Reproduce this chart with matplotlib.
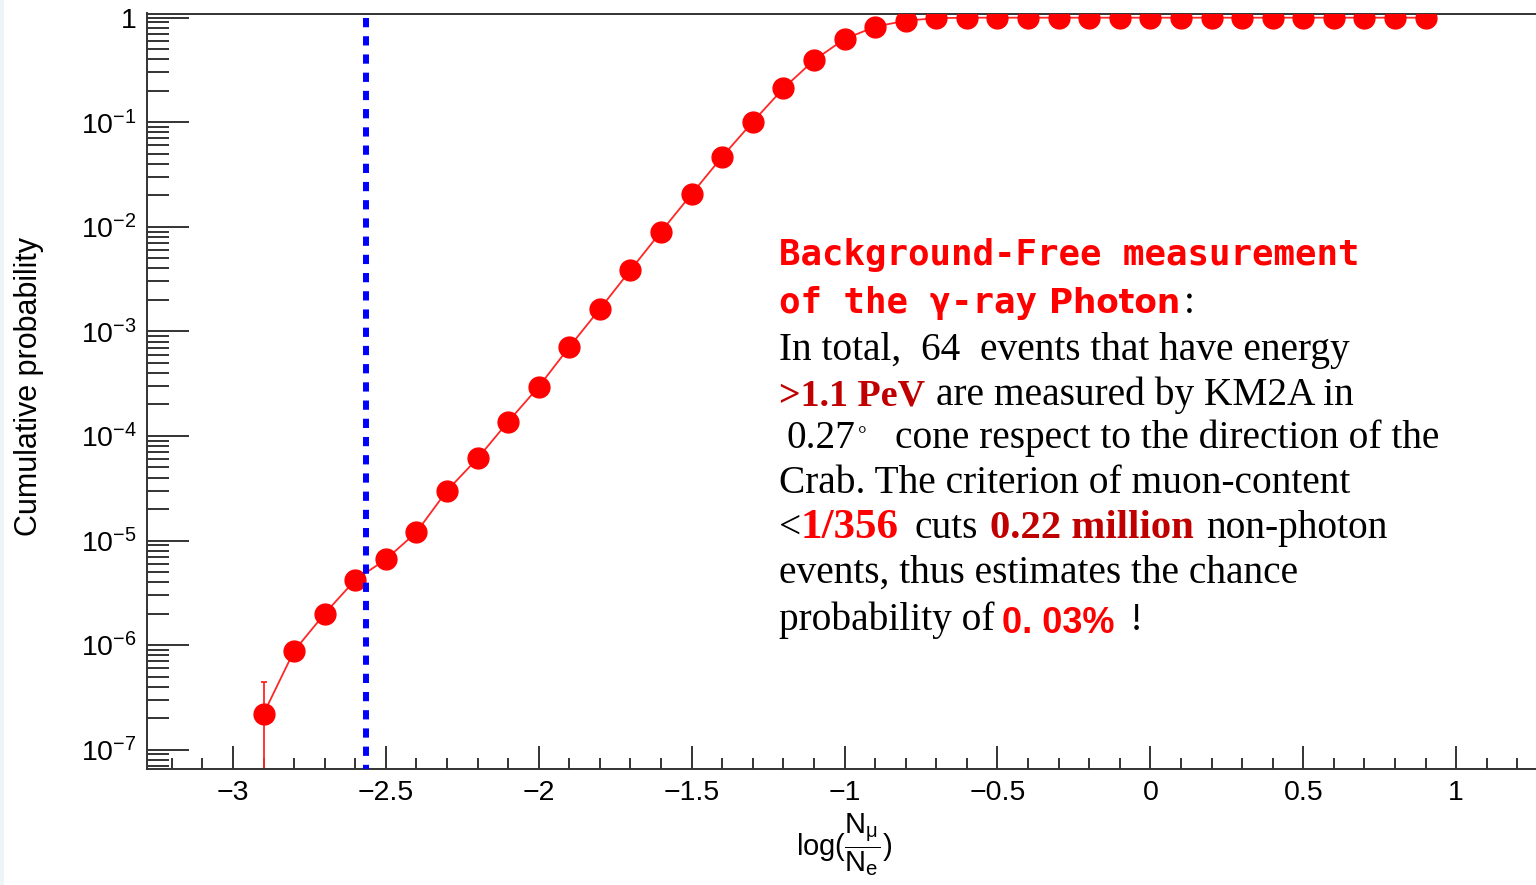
import numpy as np
import matplotlib
matplotlib.use("Agg")
import matplotlib.pyplot as plt
from matplotlib.patches import Rectangle
from matplotlib.ticker import (MultipleLocator, FixedLocator, FuncFormatter,
                               NullFormatter)

# ---------------------------------------------------------------- data
log_ratio = [-2.9, -2.8, -2.7, -2.6, -2.5, -2.4, -2.3, -2.2, -2.1, -2.0,
             -1.9, -1.8, -1.7, -1.6, -1.5, -1.4, -1.3, -1.2, -1.1, -1.0,
             -0.9, -0.8, -0.7, -0.6, -0.5, -0.4, -0.3, -0.2, -0.1, 0.0,
             0.1, 0.2, 0.3, 0.4, 0.5, 0.6, 0.7, 0.8, 0.9]
cum_prob = [2.2e-7, 8.8e-7, 2.0e-6, 4.2e-6, 6.6e-6, 1.2e-5, 3.0e-5, 6.1e-5,
            1.37e-4, 2.96e-4, 7.1e-4, 1.64e-3, 3.86e-3, 9.0e-3, 2.06e-2,
            4.69e-2, 0.101, 0.211, 0.392, 0.625, 0.820, 0.936, 0.99,
            1.0, 1.0, 1.0, 1.0, 1.0, 1.0, 1.0, 1.0, 1.0, 1.0, 1.0, 1.0,
            1.0, 1.0, 1.0, 1.0]
# Poisson error of the lowest bin (single event)
first_err = 2.2e-7
# muon-content cut, log10(Nmu/Ne)
cut_value = -2.565

x_ticks = [-3, -2.5, -2, -1.5, -1, -0.5, 0, 0.5, 1]
y_decades = [-7, -6, -5, -4, -3, -2, -1, 0]

# ---------------------------------------------------------------- style
plt.rcParams["font.family"] = ["Liberation Sans", "DejaVu Sans"]
plt.rcParams["mathtext.fontset"] = "custom"
plt.rcParams["mathtext.rm"] = "Liberation Sans"
plt.rcParams["mathtext.it"] = "Liberation Sans:italic"
plt.rcParams["mathtext.bf"] = "Liberation Sans:bold"

W, H = 1536, 885
fig = plt.figure(figsize=(W / 100, H / 100), dpi=100)
fig.patch.set_facecolor("white")


def fx(px):
    return px / W


def fy(py):
    return 1 - py / H


ax_left, ax_top, ax_bottom = 146.7, 13.5, 769.0
ax = fig.add_axes([fx(ax_left), fy(ax_bottom), (W - ax_left) / W,
                   (ax_bottom - ax_top) / H])
ax.set_yscale("log", nonpositive="clip")
ax.set_xlim(-3.282, 1.261)
ax.set_ylim(10 ** -7.185, 10 ** 0.040)

# curve, markers and error bar
ax.plot(log_ratio, cum_prob, color="#ff2626", lw=1.3, zorder=2)
ax.plot(log_ratio, cum_prob, "o", ms=15, color="#ff0000", mec="#ff0000",
        zorder=3)
ax.errorbar([log_ratio[0]], [cum_prob[0]], yerr=[[first_err], [first_err]],
            fmt="none", ecolor="#ff2626", elinewidth=1.3, capsize=2.5,
            capthick=1.3, zorder=2)

# cut line
ax.plot([cut_value, cut_value], [1.0, 10 ** -7.185], color="#0000ff",
        lw=4.3, linestyle=(0, (1.55, 1.5)), zorder=4, clip_on=True)

# axes frame and ticks
for side in ("left", "bottom", "top"):
    ax.spines[side].set_linewidth(1.4)
    ax.spines[side].set_color("#333333")
ax.spines["right"].set_visible(False)

ax.xaxis.set_major_locator(FixedLocator(x_ticks))
ax.xaxis.set_minor_locator(MultipleLocator(0.1))
ax.xaxis.set_major_formatter(FuncFormatter(
    lambda v, p: ("%g" % v).replace("-", "\u2212")))

major_y = [10.0 ** d for d in y_decades]
minor_y = [m * 10.0 ** d for d in y_decades[:-1] for m in range(2, 10)]
minor_y += [m * 10.0 ** -8 for m in range(7, 10)]
ax.yaxis.set_major_locator(FixedLocator(major_y))
ax.yaxis.set_minor_locator(FixedLocator(minor_y))
ax.yaxis.set_major_formatter(FuncFormatter(
    lambda v, p: "1" if abs(v - 1) < 1e-9 else r"$10^{%d}$" % round(np.log10(v))))
ax.yaxis.set_minor_formatter(NullFormatter())

ax.tick_params(axis="both", which="both", direction="in", color="#333333",
               width=1.4, top=False, right=False, labelsize=20.5,
               labelcolor="black")
ax.tick_params(axis="y", which="major", length=30, pad=7)
ax.tick_params(axis="y", which="minor", length=16)
ax.tick_params(axis="x", which="major", length=16.5, pad=8)
ax.tick_params(axis="x", which="minor", length=8)

# axis titles
fig.text(fx(29), fy(387), "Cumulative probability", rotation=90,
         fontsize=22, ha="center", va="center")
fig.text(fx(844), fy(845),
         r"$\log(\dfrac{\mathrm{N}_{\mathrm{\mu}}}{\mathrm{N}_{\mathrm{e}}})$",
         fontsize=21, ha="center", va="center")

# thin tinted edge on the far left
fig.add_artist(Rectangle((0, 0), fx(4), 1, transform=fig.transFigure,
                         color="#eef5f8", zorder=0, lw=0))

# ---------------------------------------------------------------- notes
renderer = fig.canvas.get_renderer()


def fit_size(s, target_px, **kw):
    t = fig.text(0, 0, s, fontsize=20, **kw)
    w = t.get_window_extent(renderer).width
    t.remove()
    return 20 * target_px / w


def put(px, py, s, **kw):
    return fig.text(fx(px), fy(py), s, ha="left", va="baseline", **kw)


mono = dict(family="DejaVu Sans Mono", weight="bold", color="#ff0000")
serif = dict(family="Liberation Serif", color="black")
bold_dark = dict(family="Liberation Serif", weight="bold", color="#c00000")
bold_red = dict(family="Liberation Serif", weight="bold", color="#ff0000")

title_size = fit_size("Background-Free measurement", 582, **mono)
body_size = fit_size("Crab. The criterion of muon-content", 571, **serif)
photon_size = fit_size("Photon", 131, family="DejaVu Sans", weight="bold")

put(779, 265, "Background-Free measurement", fontsize=title_size, **mono)
put(779, 313, "of the γ-ray", fontsize=title_size, **mono)
put(1049, 313, "Photon", fontsize=photon_size, family="DejaVu Sans",
    weight="bold", color="#ff0000")
put(1184, 313, ":", fontsize=body_size, **serif)

put(779, 360, "In total,  64  events that have energy", fontsize=body_size,
    **serif)
put(779, 405, ">1.1 PeV", fontsize=fit_size(">1.1 PeV", 146, **bold_dark),
    **bold_dark)
put(936, 405, "are measured by KM2A in", fontsize=body_size, **serif)
put(787, 448, "0.27", fontsize=body_size, **serif)
put(858, 441, "°", fontsize=body_size * 0.55, **serif)
put(895, 448, "cone respect to the direction of the", fontsize=body_size,
    **serif)
put(779, 493, "Crab. The criterion of muon-content", fontsize=body_size,
    **serif)
put(779, 538, "<", fontsize=body_size, **serif)
put(800, 538, "1/356", fontsize=fit_size("1/356", 98, **bold_red),
    **bold_red)
put(915, 538, "cuts", fontsize=body_size, **serif)
put(990, 538, "0.22 million",
    fontsize=fit_size("0.22 million", 204, **bold_dark), **bold_dark)
put(1206, 538, "non-photon", fontsize=body_size, **serif)
put(779, 583, "events, thus estimates the chance", fontsize=body_size,
    **serif)
put(779, 630, "probability of", fontsize=body_size, **serif)
put(1002, 633, "0. 03%", fontsize=26, family="Liberation Sans",
    weight="bold", color="#ff0000")
put(1130, 630, "!", fontsize=body_size, **serif)

fig.savefig("out.png", dpi=100)
